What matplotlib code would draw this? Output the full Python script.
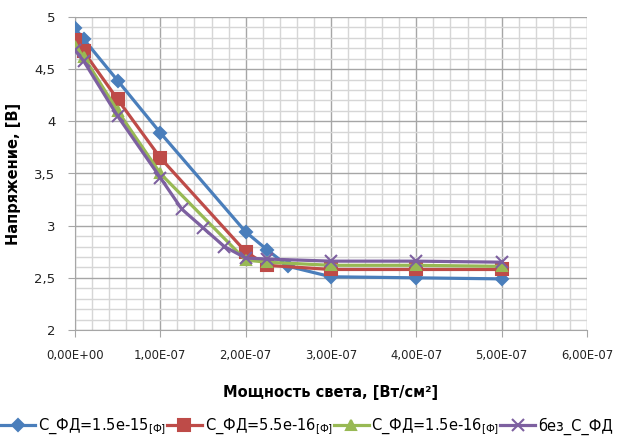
import matplotlib
matplotlib.use('Agg')
import matplotlib.pyplot as plt
from matplotlib.ticker import MultipleLocator, FuncFormatter

# ---- data ----
x_blue   = [0.0, 0.1e-7, 0.5e-7, 1.0e-7, 2.0e-7, 2.25e-7, 2.5e-7, 3.0e-7, 4.0e-7, 5.0e-7]
y_blue   = [4.89, 4.79, 4.39, 3.89, 2.94, 2.77, 2.61, 2.51, 2.50, 2.49]

x_red    = [0.0, 0.1e-7, 0.5e-7, 1.0e-7, 2.0e-7, 2.25e-7, 3.0e-7, 4.0e-7, 5.0e-7]
y_red    = [4.78, 4.67, 4.21, 3.65, 2.75, 2.62, 2.58, 2.58, 2.58]

x_green  = [0.0, 0.1e-7, 0.5e-7, 1.0e-7, 2.0e-7, 2.25e-7, 3.0e-7, 4.0e-7, 5.0e-7]
y_green  = [4.72, 4.62, 4.10, 3.50, 2.67, 2.65, 2.62, 2.62, 2.61]

x_purple = [0.0, 0.1e-7, 0.5e-7, 1.0e-7, 1.25e-7, 1.5e-7, 1.75e-7, 2.0e-7, 2.25e-7, 3.0e-7, 4.0e-7, 5.0e-7]
y_purple = [4.68, 4.58, 4.05, 3.46, 3.16, 2.98, 2.80, 2.69, 2.68, 2.66, 2.66, 2.65]

unit = r'$_{\mathregular{[Ф]}}$'
labels = ['С_ФД=1.5e-15' + unit, 'С_ФД=5.5e-16' + unit, 'С_ФД=1.5e-16' + unit, 'без_С_ФД']
colors = ['#4A7EBB', '#BE4B48', '#98B954', '#7D60A0']
markers = ['D', 's', '^', 'x']
msizes = [6, 8, 7, 8]

W, H = 622, 436
fig = plt.figure(figsize=(W / 100, H / 100), dpi=100)
ax = fig.add_axes([75 / W, (H - 330) / H, 512 / W, 313 / H])

series = [(x_blue, y_blue), (x_red, y_red), (x_green, y_green), (x_purple, y_purple)]
for (xs, ys), lab, c, m, ms in zip(series, labels, colors, markers, msizes):
    ax.plot(xs, ys, color=c, lw=2.3, marker=m, ms=ms, mew=1.5,
            mec=c, mfc=c, label=lab, zorder=3)

ax.set_xlim(0, 6e-7)
ax.set_ylim(2, 5)
ax.xaxis.set_major_locator(MultipleLocator(1e-7))
ax.xaxis.set_minor_locator(MultipleLocator(0.2e-7))
ax.yaxis.set_major_locator(MultipleLocator(0.5))
ax.yaxis.set_minor_locator(MultipleLocator(0.1))

ax.xaxis.set_major_formatter(FuncFormatter(lambda v, p: ('%.2E' % v).replace('.', ',')))
ax.yaxis.set_major_formatter(FuncFormatter(lambda v, p: ('%g' % v).replace('.', ',')))

ax.grid(which='major', color='#A6A6A6', lw=1.0, zorder=0)
ax.grid(which='minor', color='#D6D6D6', lw=1.0, zorder=0)
ax.set_axisbelow(True)
for s in ['top', 'right']:
    ax.spines[s].set_visible(False)
for s in ['left', 'bottom']:
    ax.spines[s].set_color('#A6A6A6')
ax.tick_params(which='major', direction='out', length=5, color='#A6A6A6',
               labelsize=8.4, labelcolor='#222222', pad=9)
ax.tick_params(axis='y', labelsize=9.5)
ax.tick_params(which='minor', length=0)

ax.set_xlabel('Мощность света, [Вт/см²]', fontsize=10.5, fontweight='bold', labelpad=16)
ax.set_ylabel('Напряжение, [В]', fontsize=10.5, fontweight='bold', labelpad=10)

fig.legend(loc='center left', bbox_to_anchor=(0, 9 / H), ncol=4,
           frameon=False, fontsize=10.5, handlelength=2.4, handletextpad=0.2,
           columnspacing=0.05, borderaxespad=0, borderpad=0)

fig.savefig('out.png', dpi=100)
